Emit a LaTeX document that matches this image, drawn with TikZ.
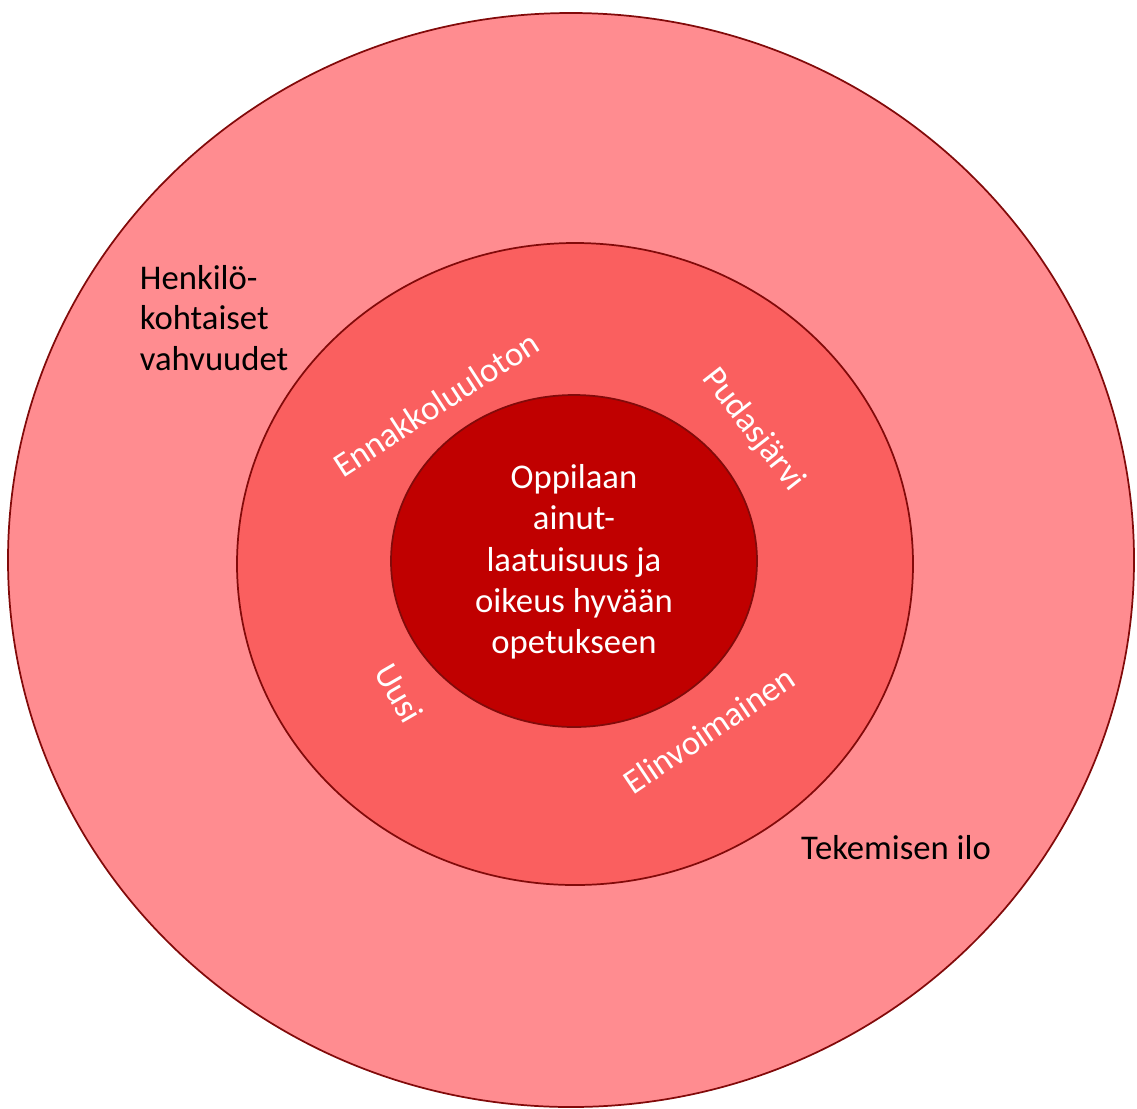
\documentclass[tikz,border=0pt]{standalone}
\usepackage{fontspec}
\setmainfont{Carlito}

\definecolor{ringline}{RGB}{130,10,10}
\definecolor{outerfill}{RGB}{255,140,144}
\definecolor{midfill}{RGB}{250,95,95}
\definecolor{corefill}{RGB}{192,0,0}

\tikzset{every picture/.style={line width=0.75pt},
	ring/.style={draw=ringline, line width=1.3pt},
	darktext/.style={font=\fontsize{26}{30.5}\selectfont, text=black},
	lighttext/.style={font=\fontsize{26}{31}\selectfont, text=white}}

\begin{document}
\begin{tikzpicture}[x=0.75pt,y=0.75pt,yscale=-1,xscale=1]
	\useasboundingbox (0,0) rectangle (1137,1108);

	%Shape: Ellipse [outer]
	\draw [ring, fill=outerfill] (571,560) ellipse (563 and 547);
	%Shape: Ellipse [middle]
	\draw [ring, fill=midfill] (575,564) ellipse (338 and 321);
	%Shape: Ellipse [core]
	\draw [ring, fill=corefill] (574,561) ellipse (183 and 166);

	% Text Node
	\draw (135,318) node [darktext, anchor=west, align=left] (vahvuudet) {Henkilö-\\kohtaiset\\vahvuudet};
	% Text Node
	\draw (896,848) node [darktext] (ilo) {Tekemisen ilo};
	% Text Node
	\draw (574,562) node [lighttext, align=center] (oppilas) {Oppilaan\\ainut-\\laatuisuus ja\\oikeus hyvään\\opetukseen};
	% Text Node
	\draw (436,404) node [lighttext, rotate=33] (ennakko) {Ennakkoluuloton};
	% Text Node
	\draw (753,430) node [lighttext, rotate=-52] (pudas) {Pudasjärvi};
	% Text Node
	\draw (399,693) node [lighttext, rotate=-60] (uusi) {Uusi};
	% Text Node
	\draw (709,730) node [lighttext, rotate=34] (elinvoima) {Elinvoimainen};

\end{tikzpicture}
\end{document}
